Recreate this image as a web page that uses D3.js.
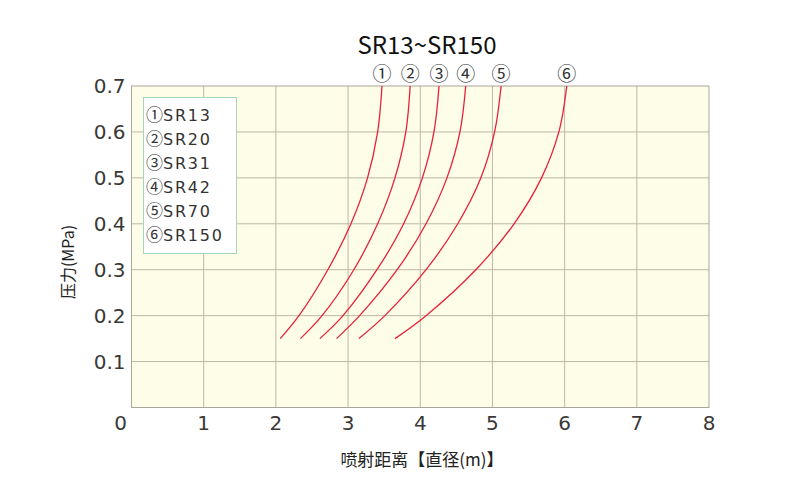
<!DOCTYPE html>
<html><head><meta charset="utf-8">
<script src="https://cdn.jsdelivr.net/npm/d3@7/dist/d3.min.js"></script>
<style>
body{margin:0;background:#fff;}
svg text{font-family:"Noto Sans CJK JP","Noto Sans CJK SC",sans-serif;}
svg text.num{font-family:"DejaVu Sans","Noto Sans CJK JP",sans-serif;}
</style></head>
<body><svg id="c" width="800" height="500"></svg>
<script>
const title = "SR13~SR150";
const xTitle = "喷射距离【直径(m)】";
const yTitle = "压力(MPa)";
const xTicks = [0,1,2,3,4,5,6,7,8];
const yTicks = [0.1,0.2,0.3,0.4,0.5,0.6,0.7];
const seriesNames = ["SR13","SR20","SR31","SR42","SR70","SR150"];
const seriesMarks = ["①","②","③","④","⑤","⑥"];
const pressures = [0.15,0.2,0.3,0.4,0.5,0.6,0.7];
const sr13  = [2.06,2.32,2.72,3.04,3.27,3.41,3.47];
const sr20  = [2.34,2.64,3.08,3.41,3.65,3.80,3.86];
const sr31  = [2.61,2.93,3.40,3.77,4.03,4.19,4.26];
const sr42  = [2.84,3.16,3.68,4.08,4.37,4.55,4.63];
const sr70  = [3.15,3.51,4.08,4.52,4.84,5.03,5.12];
const sr150 = [3.65,4.08,4.77,5.30,5.68,5.92,6.03];
const series = [sr13,sr20,sr31,sr42,sr70,sr150];

const svg = d3.select("#c");
const L=131.5,R=709,T=86,B=407.5;
const x = d3.scaleLinear().domain([0,8]).range([L,R]);
const y = d3.scaleLinear().domain([0,0.7]).range([B,T]);

svg.append("rect").attr("x",L).attr("y",T).attr("width",R-L).attr("height",B-T).attr("fill","#fefde7");
svg.append("g").selectAll("line").data(xTicks.slice(1,-1)).join("line")
  .attr("x1",d=>x(d)).attr("x2",d=>x(d)).attr("y1",T).attr("y2",B)
  .attr("stroke","#bdb8a4").attr("stroke-width",1);
svg.append("g").selectAll("line").data(yTicks.slice(0,-1)).join("line")
  .attr("x1",L).attr("x2",R).attr("y1",d=>y(d)).attr("y2",d=>y(d))
  .attr("stroke","#bdb8a4").attr("stroke-width",1);
svg.append("rect").attr("x",L).attr("y",T).attr("width",R-L).attr("height",B-T)
  .attr("fill","none").attr("stroke","#aaa59a").attr("stroke-width",1);

svg.append("g").selectAll("text").data(yTicks).join("text").attr("class","num")
  .attr("x",L-6).attr("y",d=>y(d)).attr("dy","0.36em").attr("text-anchor","end")
  .attr("font-size",20).attr("fill","#3a3835").text(d=>d.toFixed(1));
svg.append("g").selectAll("text").data(xTicks).join("text").attr("class","num")
  .attr("x",d=>d===0?x(d)-11:x(d)).attr("y",423).attr("dy","0.36em").attr("text-anchor","middle")
  .attr("font-size",20).attr("fill","#3a3835").text(d=>String(d));

svg.append("text").attr("x",422).attr("y",460).attr("dy","0.36em").attr("text-anchor","middle")
  .attr("font-size",17).attr("fill","#222").text(xTitle);
svg.append("text").attr("transform","translate(68,262) rotate(-90)").attr("dy","0.36em")
  .attr("text-anchor","middle").attr("font-size",16).attr("fill","#222").text(yTitle);
svg.append("text").attr("x",427).attr("y",45).attr("dy","0.36em").attr("text-anchor","middle")
  .attr("font-size",24).attr("fill","#111").text(title);

const line = d3.line().x(d=>x(d[0])).y(d=>y(d[1])).curve(d3.curveCatmullRom.alpha(0.5));
series.forEach((s,i)=>{
  const pts = s.map((v,j)=>[v,pressures[j]]);
  svg.append("path").attr("d",line(pts)).attr("fill","none")
    .attr("stroke","#e8203c").attr("stroke-width",1.3);
  svg.append("text").attr("x",x(s[s.length-1])).attr("y",74).attr("dy","0.36em")
    .attr("text-anchor","middle").attr("font-size",19).attr("fill","#333").text(seriesMarks[i]);
});

const lg = svg.append("g");
lg.append("rect").attr("x",143.5).attr("y",97.5).attr("width",93).attr("height",156)
  .attr("fill","#ffffff").attr("stroke","#a6d4bd").attr("stroke-width",1);
const items = lg.selectAll("text").data(seriesNames).join("text")
  .attr("x",146).attr("y",(d,i)=>115+i*24).attr("dy","0.36em")
  .attr("font-size",16).attr("fill","#333");
items.append("tspan").attr("font-size",17).text((d,i)=>seriesMarks[i]);
items.append("tspan").attr("class","num").attr("font-family","DejaVu Sans, sans-serif")
  .attr("font-size",16).attr("letter-spacing",1.8).text(d=>d);
</script></body></html>
